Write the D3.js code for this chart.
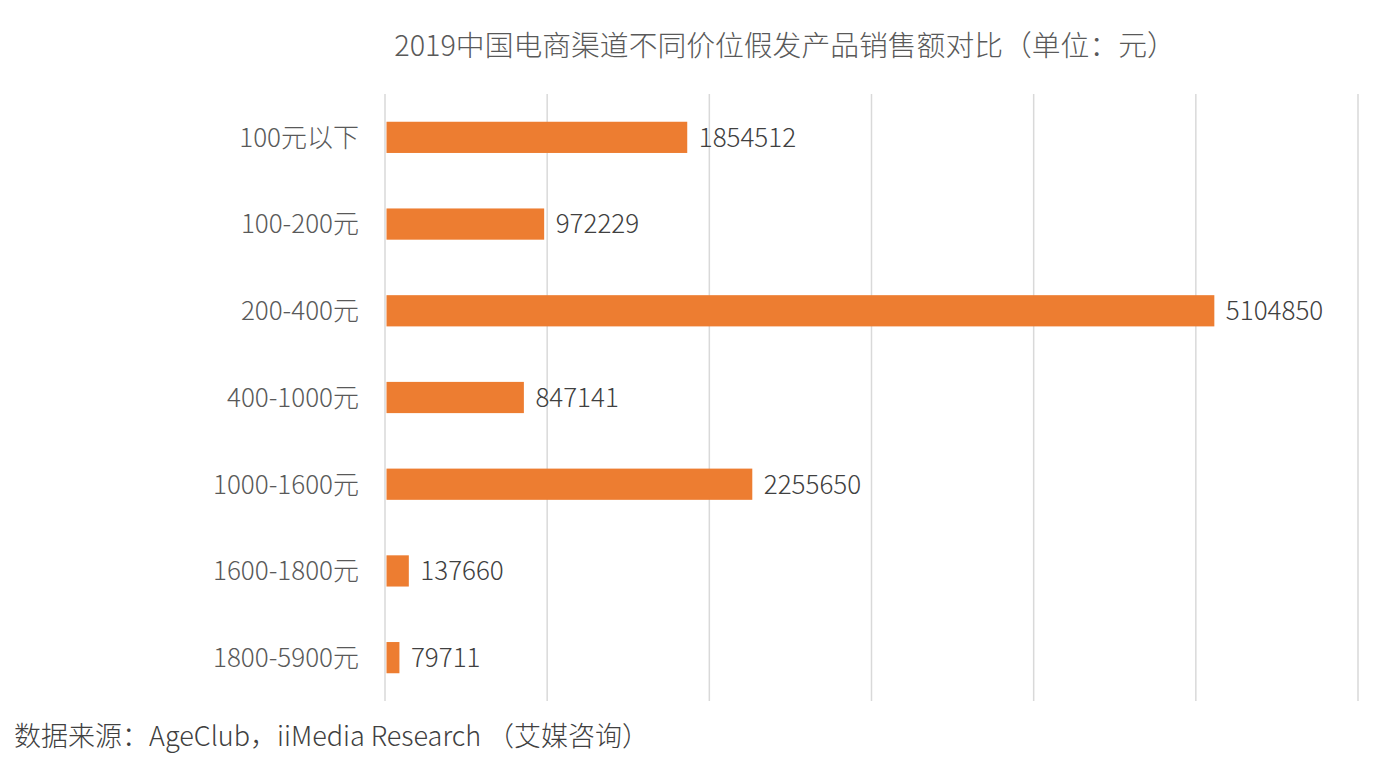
<!DOCTYPE html>
<html>
<head>
<meta charset="utf-8">
<script src="https://cdn.jsdelivr.net/npm/d3@7.9.0/dist/d3.min.js"></script>
<style>
  html, body { margin: 0; padding: 0; background: #fff; }
  svg { display: block; font-family: "Noto Sans CJK SC", "Noto Sans", sans-serif; }
</style>
</head>
<body>
<svg id="chart" width="1382" height="768"></svg>
<script>
const categories = ['100元以下', '100-200元', '200-400元', '400-1000元', '1000-1600元', '1600-1800元', '1800-5900元'];
const values = [1854512, 972229, 5104850, 847141, 2255650, 137660, 79711];
const xTicks = [0, 1000000, 2000000, 3000000, 4000000, 5000000, 6000000];

const svg = d3.select('#chart');
const margin = { top: 94, left: 385 };

const chart = svg.append('g').attr('transform', `translate(${margin.left},${margin.top})`);

const x = d3.scaleLinear().domain([0, 6000000]).range([0, 973]);
const y = d3.scaleBand().domain(categories).range([0, 607]).paddingInner(0.64).paddingOuter(0.32);

// gridlines
chart.selectAll('line.grid')
  .data(xTicks)
  .join('line')
  .attr('class', 'grid')
  .attr('x1', d => x(d)).attr('x2', d => x(d))
  .attr('y1', 0).attr('y2', 607)
  .attr('stroke', '#d9d9d9')
  .attr('stroke-width', 1.5);

// bars
chart.selectAll('rect')
  .data(values)
  .join('rect')
  .attr('x', 1.5)
  .attr('y', (d, i) => y(categories[i]))
  .attr('width', d => x(d))
  .attr('height', y.bandwidth())
  .attr('fill', '#ED7D31');

// value labels
chart.selectAll('text.val')
  .data(values)
  .join('text')
  .attr('class', 'val')
  .attr('x', d => x(d) + 13)
  .attr('y', (d, i) => y(categories[i]) + y.bandwidth() / 2)
  .attr('dy', '0.36em')
  .attr('font-size', 26)
  .attr('font-weight', 300)
  .attr('fill', '#404040')
  .text(d => d);

// category labels
chart.selectAll('text.cat')
  .data(categories)
  .join('text')
  .attr('class', 'cat')
  .attr('x', -26)
  .attr('y', d => y(d) + y.bandwidth() / 2)
  .attr('dy', '0.36em')
  .attr('text-anchor', 'end')
  .attr('font-size', 26)
  .attr('font-weight', 300)
  .attr('fill', '#595959')
  .text(d => d);

// title
svg.append('text')
  .attr('x', 785)
  .attr('y', 56)
  .attr('text-anchor', 'middle')
  .attr('font-size', 28.8)
  .attr('font-weight', 300)
  .attr('fill', '#595959')
  .text('2019中国电商渠道不同价位假发产品销售额对比（单位：元）');

// source
svg.append('text')
  .attr('x', 14)
  .attr('y', 746)
  .attr('font-size', 27)
  .attr('font-weight', 300)
  .attr('fill', '#404040')
  .text('数据来源：AgeClub，iiMedia Research （艾媒咨询）');
</script>
</body>
</html>
